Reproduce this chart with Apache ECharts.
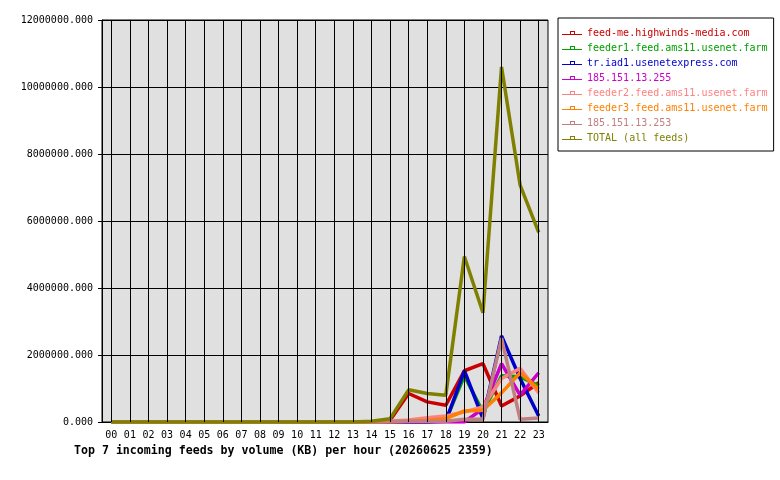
<!DOCTYPE html>
<html>
<head>
<meta charset="utf-8">
<script src="https://cdn.jsdelivr.net/npm/echarts@6/dist/echarts.min.js"></script>
<style>
  html, body { margin: 0; padding: 0; background: #fff; }
  #chart { width: 780px; height: 480px; }
</style>
</head>
<body>
<div id="chart"></div>
<script>
// hours of the day
const hours = ['00','01','02','03','04','05','06','07','08','09','10','11',
               '12','13','14','15','16','17','18','19','20','21','22','23']

const feedNames = [
  'feed-me.highwinds-media.com',
  'feeder1.feed.ams11.usenet.farm',
  'tr.iad1.usenetexpress.com',
  '185.151.13.255',
  'feeder2.feed.ams11.usenet.farm',
  'feeder3.feed.ams11.usenet.farm',
  '185.151.13.253',
  'TOTAL (all feeds)'
]
const feedColors = ['#cc0000', '#00a000', '#0000cc', '#cc00cc', '#ff8080', '#ff8000', '#c08080', '#808000']

// KB per hour
const highwinds = [0,0,0,0,0,0,0,0,0,0,0,0,0,0,0, 50000, 850000, 600000, 500000, 1530000, 1740000, 480000, 780000, 1170000]
const feeder1   = [0,0,0,0,0,0,0,0,0,0,0,0,0,0,0, 0, 0, 0, 50000, 1380000, 300000, 1380000, 1350000, 1080000]
const iad1      = [0,0,0,0,0,0,0,0,0,0,0,0,0,0,0, 0, 0, 0, 20000, 1530000, 100000, 2570000, 1300000, 180000]
const ip255     = [0,0,0,0,0,0,0,0,0,0,0,0,0,0,0, 0, 0, 0, 0, 0, 400000, 1740000, 800000, 1470000]
const feeder2   = [0,0,0,0,0,0,0,0,0,0,0,0,0,0,0, 20000, 60000, 130000, 180000, 300000, 450000, 1300000, 1600000, 870000]
const feeder3   = [0,0,0,0,0,0,0,0,0,0,0,0,0,0,0, 0, 20000, 50000, 100000, 330000, 350000, 870000, 1470000, 980000]
const ip253     = [0,0,0,0,0,0,0,0,0,0,0,0,0,0,0, 20000, 20000, 20000, 20000, 80000, 80000, 2500000, 80000, 120000]
const total     = [0,0,0,0,0,0,0,0,0,0,0,0,0,0, 20000, 100000, 960000, 850000, 800000, 4940000, 3260000, 10600000, 7070000, 5660000]

const feedData = [highwinds, feeder1, iad1, ip255, feeder2, feeder3, ip253, total]

const mono = 'DejaVu Sans Mono'
// small line with a square, like the legend marks
const legendIcon = 'path://M0,4h20v1H0z M8,1h5v1H8z M8,1h1v4H8z M12,1h1v4h-1z'

const chart = echarts.init(document.getElementById('chart'))

// vertical grid lines sit on the hours, not between them
const hourGrid = {
  type: 'line',
  data: [],
  silent: true,
  markLine: {
    silent: true,
    symbol: 'none',
    label: { show: false },
    lineStyle: { color: '#000', width: 1, type: 'solid' },
    data: hours.map(h => ({ xAxis: h }))
  }
}

chart.setOption({
  animation: false,
  backgroundColor: '#ffffff',
  title: {
    text: 'Top 7 incoming feeds by volume (KB) per hour (20260625 2359)',
    left: 74,
    top: 445,
    padding: 0,
    textStyle: { fontFamily: mono, fontWeight: 'bold', fontSize: 11.6, color: '#000' }
  },
  grid: {
    left: 102,
    right: 232,
    top: 20,
    bottom: 58,
    show: true,
    backgroundColor: '#e0e0e0',
    borderColor: '#000',
    borderWidth: 1
  },
  legend: {
    orient: 'vertical',
    left: 558,
    top: 18,
    padding: [9, 6, 7, 4],
    itemWidth: 20,
    itemHeight: 6,
    itemGap: 3,
    borderColor: '#000',
    borderWidth: 1,
    icon: legendIcon,
    textStyle: { fontFamily: mono, fontSize: 10, lineHeight: 12 },
    data: feedNames.map((n, i) => ({ name: n, textStyle: { color: feedColors[i] } }))
  },
  xAxis: {
    type: 'category',
    data: hours,
    boundaryGap: true,
    axisLine: { lineStyle: { color: '#000', width: 1 } },
    axisTick: { alignWithLabel: true, length: 5, lineStyle: { color: '#000' } },
    axisLabel: { color: '#000', fontFamily: mono, fontSize: 10, margin: 8, interval: 0 },
    splitLine: { show: false }
  },
  yAxis: {
    type: 'value',
    min: 0,
    max: 12000000,
    interval: 2000000,
    axisLine: { show: true, lineStyle: { color: '#000' } },
    axisTick: { show: true, length: 4, lineStyle: { color: '#000' } },
    axisLabel: {
      color: '#000', fontFamily: mono, fontSize: 10, margin: 9,
      formatter: v => v.toFixed(3)
    },
    splitLine: { show: true, lineStyle: { color: '#000', width: 1 } }
  },
  series: [hourGrid].concat(feedNames.map((n, i) => ({
    name: n,
    type: 'line',
    data: feedData[i],
    showSymbol: false,
    symbol: 'none',
    color: feedColors[i],
    lineStyle: { width: 3.5, color: feedColors[i] }
  })))
})
</script>
</body>
</html>
